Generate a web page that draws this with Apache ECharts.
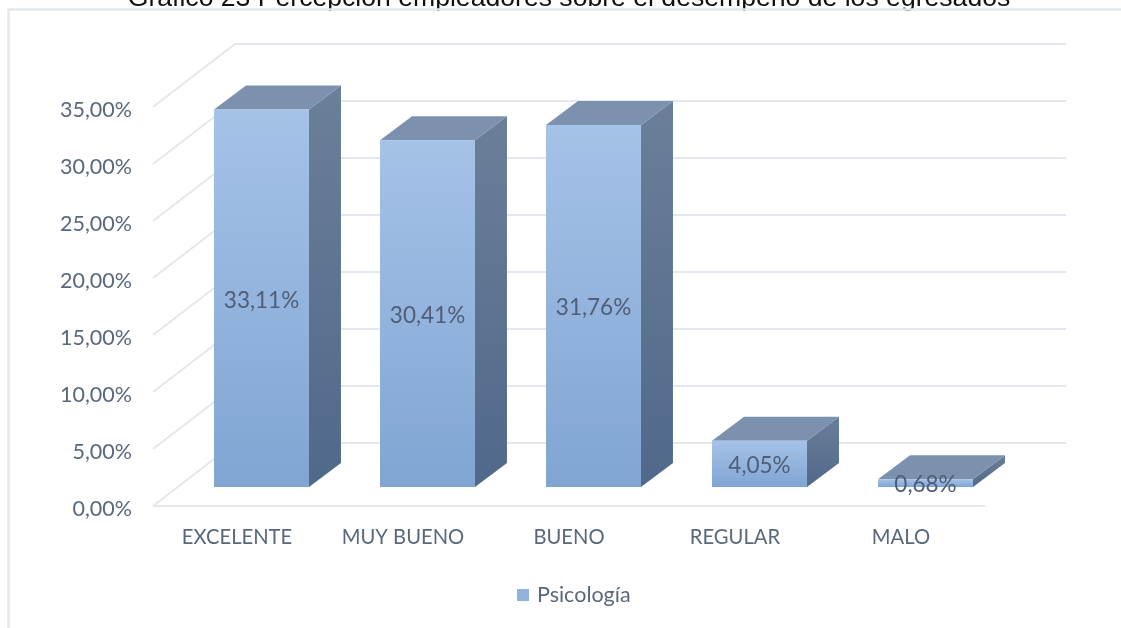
<!DOCTYPE html>
<html>
<head>
<meta charset="utf-8">
<style>html,body{margin:0;padding:0;background:#fff;overflow:hidden}#c{width:1121px;height:628px}</style>
<script src="https://cdn.jsdelivr.net/npm/echarts@6/dist/echarts.min.js"></script>
</head>
<body>
<div id="c"></div>
<script>
const chartTitle = 'Gráfico 23 Percepción empleadores sobre el desempeño de los egresados';
const categories = ['EXCELENTE', 'MUY BUENO', 'BUENO', 'REGULAR', 'MALO'];
const values = [33.11, 30.41, 31.76, 4.05, 0.68];
const valueLabels = ['33,11%', '30,41%', '31,76%', '4,05%', '0,68%'];
const ticks = [0, 5, 10, 15, 20, 25, 30, 35];
const seriesName = 'Psicología';

const textColor = '#5a687e';
const gridColor = '#e4e7ee';
const fmt = v => v.toFixed(2).replace('.', ',') + '%';

const chart = echarts.init(document.getElementById('c'), null, {renderer: 'canvas'});

function wallItem(params, api) {
  const t = api.value(0);
  const s = api.coord([0, t]);
  const band = api.size([1, 0])[0];
  const x0 = s[0] - band / 2, y = s[1];
  const backX = x0 + 82, backY = y - 63;
  const rightX = x0 + band * 5 + 83;
  const children = [{
    type: 'polyline',
    shape: {points: [[x0, y], [backX, backY], [rightX, backY]]},
    style: {stroke: gridColor, lineWidth: 2, fill: null},
    silent: true
  }];
  if (t === 0) {
    children.push({
      type: 'line',
      shape: {x1: x0, y1: y, x2: x0 + band * 5 + 2, y2: y},
      style: {stroke: gridColor, lineWidth: 2},
      silent: true
    });
  }
  return {type: 'group', children};
}

function barItem(params, api) {
  const i = api.value(0), v = api.value(1);
  const top = api.coord([i, v]);
  const base = api.coord([i, 0]);
  const band = api.size([1, 0])[0];
  const w = band * 0.572;
  const shiftX = 25.5, shiftY = 19, dx = 32, dy = 24;
  const l = top[0] + shiftX - w / 2, r = l + w;
  const t = top[1] - shiftY, b = base[1] - shiftY;
  const grad = (a, c) => new echarts.graphic.LinearGradient(0, 0, 0, 1, [{offset: 0, color: a}, {offset: 1, color: c}]);
  return {
    type: 'group',
    children: [
      {type: 'polygon', shape: {points: [[r, t], [r + dx, t - dy], [r + dx, b - dy], [r, b]]},
        style: {fill: grad('#6a7f99', '#50688a')}},
      {type: 'polygon', shape: {points: [[l, t], [l + dx, t - dy], [r + dx, t - dy], [r, t]]},
        style: {fill: '#7c91ad'}},
      {type: 'rect', shape: {x: l, y: t, width: w, height: b - t},
        style: {fill: grad('#a5c2e8', '#80a5d2')}},
      {type: 'text', x: (l + r) / 2, y: (t + b) / 2 + 2,
        style: {text: valueLabels[i], fill: '#4f5e76', font: '22.5px Lato', align: 'center', verticalAlign: 'middle'}}
    ]
  };
}

chart.setOption({
  animation: false,
  backgroundColor: '#ffffff',
  title: {
    text: chartTitle, left: 564, top: -20, textAlign: 'center',
    textStyle: {fontFamily: 'Liberation Sans', fontSize: 26.6, fontWeight: 'normal', color: '#111'}
  },
  legend: {
    show: true, bottom: 17, left: 512, itemWidth: 12, itemHeight: 12, itemGap: 8,
    data: [{name: seriesName, icon: 'rect', itemStyle: {color: '#92b3de'}}],
    textStyle: {fontFamily: 'Lato', fontSize: 21.5, color: textColor, padding: [0, 0, 0, 3]}
  },
  grid: {left: 153, top: 107, width: 830, height: 399, containLabel: false},
  xAxis: {
    type: 'category', data: categories,
    axisLine: {show: false},
    axisTick: {show: false},
    axisLabel: {margin: 21, fontFamily: 'Lato', fontSize: 20.2, color: textColor, padding: [0, 0, 0, 2]},
    splitLine: {show: false}
  },
  yAxis: {
    type: 'value', min: 0, max: 35, interval: 5,
    axisLine: {show: false}, axisTick: {show: false},
    axisLabel: {margin: 21, fontFamily: 'Lato', fontSize: 21.5, color: textColor, formatter: fmt, verticalAlign: 'top', lineHeight: 6},
    splitLine: {show: false}
  },
  graphic: [
    {type: 'polyline', silent: true, z: 100,
      shape: {points: [[8.5, 628], [8.5, 9.5], [1121, 9.5]]},
      style: {stroke: gridColor, lineWidth: 2.5, fill: null}}
  ],
  series: [
    {type: 'custom', name: 'grid', coordinateSystem: 'cartesian2d', z: 1, silent: true,
      renderItem: wallItem, data: ticks.map(t => [t]),
      encode: {y: 0}, clip: false},
    {type: 'custom', name: seriesName, coordinateSystem: 'cartesian2d', z: 3,
      renderItem: barItem, data: values.map((v, i) => [i, v]),
      encode: {x: 0, y: 1}, clip: false, itemStyle: {color: '#92b3de'}}
  ]
});
</script>
</body>
</html>
